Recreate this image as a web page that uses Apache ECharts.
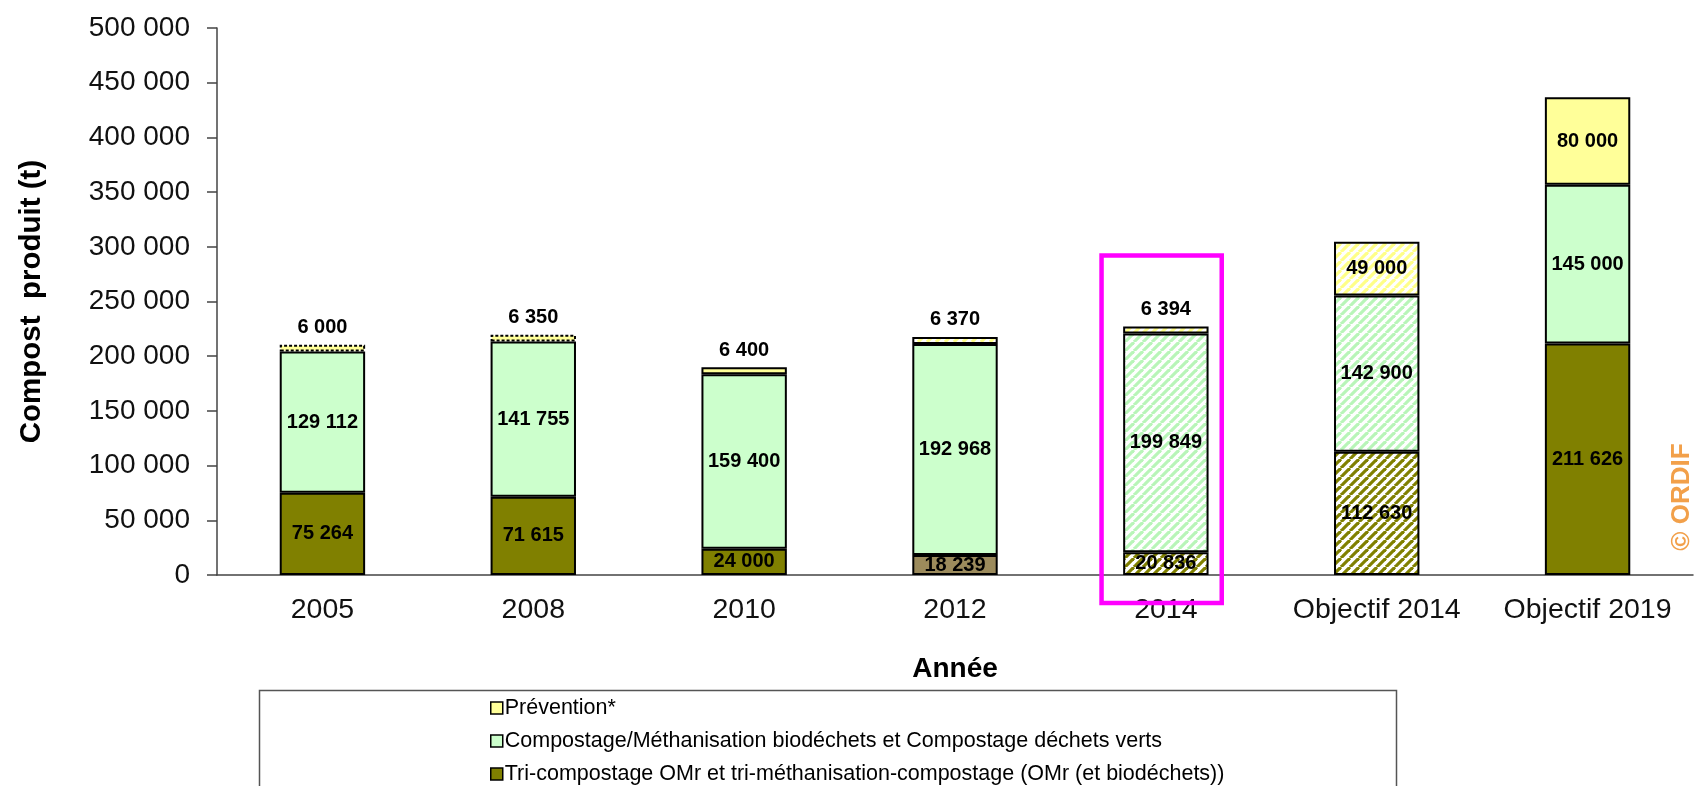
<!DOCTYPE html>
<html>
<head>
<meta charset="utf-8">
<title>Compost produit</title>
<script src="https://cdn.jsdelivr.net/npm/echarts@6/dist/echarts.min.js"></script>
<style>
	html,body{margin:0;padding:0;background:#fff;}
	#main{width:1695px;height:786px;}
</style>
</head>
<body>
<div id="main"></div>
<script>
//données
var annees = ['2005','2008','2010','2012','2014','Objectif 2014','Objectif 2019'];
var triCompostage = [75264, 71615, 24000, 18239, 20836, 112630, 211626];
var compostage = [129112, 141755, 159400, 192968, 199849, 142900, 145000];
var prevention = [6000, 6350, 6400, 6370, 6394, 49000, 80000];
var yTicks = {min:0, max:500000, interval:50000};

var FONT = '"Liberation Sans", Arial, sans-serif';
var hachures = [4, 5];   //2014 et Objectif 2014 sont hachurés
var noms = ['Prévention*',
	'Compostage/Méthanisation biodéchets et Compostage déchets verts',
	'Tri-compostage OMr et tri-méthanisation-compostage (OMr (et biodéchets))'];
var couleurs = ['#FFFF99', '#CCFFCC', '#808000'];

//motif de hachures diagonales
function hatch(color){
	var s = 9;
	var c = document.createElement('canvas');
	c.width = s; c.height = s;
	var ctx = c.getContext('2d');
	ctx.fillStyle = '#fff';
	ctx.fillRect(0,0,s,s);
	ctx.strokeStyle = color;
	ctx.lineWidth = 3.2;
	[-s,0,s].forEach(function(o){
		ctx.beginPath();
		ctx.moveTo(o, s);
		ctx.lineTo(o+s, 0);
		ctx.stroke();
	});
	return {image:c, repeat:'repeat'};
}

function fmt(v){
	return String(v).replace(/\B(?=(\d{3})+(?!\d))/g,' ');
}

function build(values, color, opts){
	return values.map(function(v,i){
		var item = {value:v, itemStyle:{}};
		if(hachures.indexOf(i)>-1 || (opts.hatchAlso && opts.hatchAlso.indexOf(i)>-1)){
			item.itemStyle.color = hatch(color);
		}
		if(opts.colors && opts.colors[i]){
			item.itemStyle.color = opts.colors[i];
		}
		if(opts.dashed && opts.dashed.indexOf(i)>-1){
			item.itemStyle.borderType = [3,2];
		}
		if(opts.labelTop && opts.labelTop.indexOf(i)>-1){
			item.label = {position:'top', distance:7};
		}
		return item;
	});
}

var labelStyle = {
	show:true,
	position:'inside',
	color:'#000',
	fontWeight:'bold',
	fontSize:20,
	fontFamily:FONT,
	formatter:function(p){ return fmt(p.value); }
};

var chart = echarts.init(document.getElementById('main'));
chart.setOption({
	animation:false,
	textStyle:{fontFamily:FONT},
	grid:{left:217, right:2, top:28, bottom:211},
	xAxis:{
		type:'category',
		data:annees,
		name:'Année',
		nameLocation:'middle',
		nameGap:80,
		nameTextStyle:{fontSize:28, fontWeight:'bold', color:'#000'},
		axisLine:{lineStyle:{color:'#444', width:1.5}},
		axisTick:{length:10, lineStyle:{color:'#444', width:1.5}},
		axisLabel:{fontSize:28.5, color:'#111', margin:21, interval:0}
	},
	yAxis:{
		type:'value',
		min:yTicks.min,
		max:yTicks.max,
		interval:yTicks.interval,
		name:'Compost  produit (t)',
		nameLocation:'middle',
		nameGap:170,
		nameTextStyle:{fontSize:29.5, fontWeight:'bold', color:'#000'},
		axisLine:{show:true, lineStyle:{color:'#444', width:1.5}},
		axisTick:{show:true, length:10, lineStyle:{color:'#444', width:1.5}},
		axisLabel:{fontSize:28, color:'#111', margin:27, formatter:fmt},
		splitLine:{show:false}
	},
	legend:{
		orient:'vertical',
		left:490,
		top:697,
		height:150,
		padding:0,
		itemWidth:12,
		itemHeight:12,
		itemGap:11,
		icon:'rect',
		data:noms.map(function(n,i){
			return {name:n, itemStyle:{color:couleurs[i]}};
		}),
		textStyle:{fontSize:21.5, color:'#000', padding:[0,0,0,-3]},
		itemStyle:{borderColor:'#000', borderWidth:1.5}
	},
	series:[{
		name:noms[2],
		type:'bar',
		stack:'total',
		barWidth:'40.5%',
		itemStyle:{color:couleurs[2], borderColor:'#000', borderWidth:2},
		label:labelStyle,
		data:build(triCompostage, '#808000', {colors:{3:'#9C8B5C'}})
	},{
		name:noms[1],
		type:'bar',
		stack:'total',
		itemStyle:{color:couleurs[1], borderColor:'#000', borderWidth:2},
		label:labelStyle,
		data:build(compostage, '#B8F5B8', {})
	},{
		name:noms[0],
		type:'bar',
		stack:'total',
		itemStyle:{color:couleurs[0], borderColor:'#000', borderWidth:2},
		label:labelStyle,
		data:build(prevention, '#FFFF88', {dashed:[0,1], labelTop:[0,1,2,3,4], hatchAlso:[3]})
	}]
});

//cadre de la légende, cadre magenta autour de 2014, copyright
var x4 = chart.convertToPixel({xAxisIndex:0}, '2014');
var band = chart.convertToPixel({xAxisIndex:0}, 'Objectif 2014') - x4;
var yTop = chart.convertToPixel({yAxisIndex:0}, 292000);
var y0 = chart.convertToPixel({yAxisIndex:0}, 0);
chart.setOption({
	graphic:[{
		type:'rect',
		left:257, top:688,
		shape:{width:1137, height:120},
		style:{fill:null, stroke:'#555', lineWidth:1.5},
		silent:true
	},{
		type:'rect',
		shape:{x:x4 - band*0.305, y:yTop, width:band*0.57, height:y0 + 28 - yTop},
		style:{fill:null, stroke:'#FF00FF', lineWidth:4.5},
		z:100
	},{
		type:'text',
		x:1682, y:497,
		rotation:Math.PI/2,
		style:{text:'© ORDIF', fill:'#F2A04A', font:'bold 26px ' + FONT, align:'center', verticalAlign:'middle'}
	}]
});
</script>
</body>
</html>
